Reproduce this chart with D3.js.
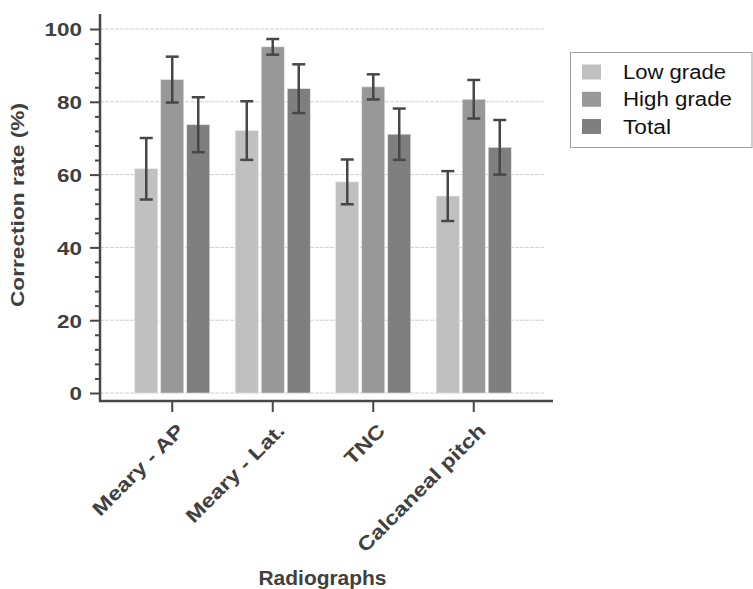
<!DOCTYPE html>
<html>
<head>
<meta charset="utf-8">
<script src="https://cdn.jsdelivr.net/npm/d3@7"></script>
<style>
  html, body { margin: 0; padding: 0; background: #fff; }
  svg { display: block; }
  text { font-family: "Liberation Sans", Arial, Helvetica, sans-serif; }
</style>
</head>
<body>
<svg id="chart" width="753" height="589"></svg>
<script>
// ---- data ----
const categories = ["Meary - AP", "Meary - Lat.", "TNC", "Calcaneal pitch"];
const series = ["Low grade", "High grade", "Total"];
const lowGrade = [61.6, 72.1, 58.0, 54.1];
const lowGradeErr = [8.45, 8.05, 6.15, 6.85];
const highGrade = [86.1, 95.1, 84.1, 80.7];
const highGradeErr = [6.3, 2.15, 3.45, 5.3];
const total = [73.7, 83.6, 71.1, 67.5];
const totalErr = [7.55, 6.7, 7.05, 7.5];
const yTicks = [0, 20, 40, 60, 80, 100];
const yLabel = "Correction rate (%)";
const xLabel = "Radiographs";

const values = [lowGrade, highGrade, total];
const errors = [lowGradeErr, highGradeErr, totalErr];
const colors = ["#c0c0c0", "#989898", "#7f7f7f"];

const rows = [];
categories.forEach((c, i) => {
  series.forEach((s, j) => {
    rows.push({ cat: c, series: s, value: values[j][i], err: errors[j][i] });
  });
});

// ---- layout ----
const svg = d3.select("#chart");
const axisColor = "#474747";
const plotLeft = 100, plotRight = 545, axisRight = 553;
const yBottomPx = 393, yTopPx = 29, xAxisY = 401, yAxisTop = 14;

const y = d3.scaleLinear().domain([0, 100]).range([yBottomPx, yTopPx]);
const x0 = d3.scaleBand().domain(categories).range([122, 524]).padding(0);
const x1 = d3.scaleBand().domain(series).range([-39, 39]).paddingInner(0.115).paddingOuter(0.0575);
const color = d3.scaleOrdinal().domain(series).range(colors);

function stretch(sel, factor) {
  sel.each(function () {
    const w = this.getComputedTextLength();
    d3.select(this).attr("textLength", w * factor).attr("lengthAdjust", "spacingAndGlyphs");
  });
}

// gridlines
svg.append("g").selectAll("line").data(yTicks).join("line")
  .attr("x1", plotLeft).attr("x2", plotRight)
  .attr("y1", d => y(d)).attr("y2", d => y(d))
  .attr("stroke", "#d0d0d0").attr("stroke-width", 1)
  .attr("stroke-dasharray", "4,1");

// bars
const gBars = svg.append("g");
gBars.selectAll("rect").data(rows).join("rect")
  .attr("x", d => x0(d.cat) + x0.bandwidth() / 2 + x1(d.series))
  .attr("width", x1.bandwidth())
  .attr("y", d => y(d.value))
  .attr("height", d => y(0) - y(d.value))
  .attr("fill", d => color(d.series))
  .attr("stroke", "#e4e4e4").attr("stroke-width", 0.6);

// error bars
const capHalf = 6.5;
const gErr = svg.append("g").attr("stroke", "#474747").attr("stroke-width", 2.5);
rows.forEach(d => {
  const cx = x0(d.cat) + x0.bandwidth() / 2 + x1(d.series) + x1.bandwidth() / 2;
  const yHi = y(d.value + d.err), yLo = y(d.value - d.err);
  gErr.append("line").attr("x1", cx).attr("x2", cx).attr("y1", yHi).attr("y2", yLo);
  gErr.append("line").attr("x1", cx - capHalf).attr("x2", cx + capHalf).attr("y1", yHi).attr("y2", yHi);
  gErr.append("line").attr("x1", cx - capHalf).attr("x2", cx + capHalf).attr("y1", yLo).attr("y2", yLo);
});

// y axis: minor ticks
const minorTicks = d3.range(0, 101, 4).filter(v => yTicks.indexOf(v) < 0);
const yMinor = svg.append("g").attr("transform", `translate(${plotLeft},0)`)
  .call(d3.axisLeft(y).tickValues(minorTicks).tickSize(5).tickFormat(""));
yMinor.select(".domain").remove();
yMinor.selectAll("line").attr("stroke", axisColor).attr("stroke-width", 2);

// y axis: major ticks
const yAxis = svg.append("g").attr("transform", `translate(${plotLeft},0)`)
  .call(d3.axisLeft(y).tickValues(yTicks).tickSize(10).tickPadding(8));
yAxis.select(".domain").remove();
yAxis.selectAll("line").attr("stroke", axisColor).attr("stroke-width", 2);
yAxis.selectAll("text")
  .attr("fill", "#404040").attr("font-size", 19).attr("font-weight", "bold")
  .attr("font-family", "Liberation Sans, Arial, sans-serif")
  .attr("dy", "0.36em");
stretch(yAxis.selectAll("text"), 1.18);

// axis lines
svg.append("line").attr("x1", plotLeft).attr("x2", plotLeft)
  .attr("y1", yAxisTop).attr("y2", xAxisY + 1)
  .attr("stroke", axisColor).attr("stroke-width", 2.5);
svg.append("line").attr("x1", plotLeft - 1).attr("x2", axisRight)
  .attr("y1", xAxisY).attr("y2", xAxisY)
  .attr("stroke", axisColor).attr("stroke-width", 2.5);

// x axis ticks + labels
const xAxis = svg.append("g").attr("transform", `translate(0,${xAxisY})`)
  .call(d3.axisBottom(x0).tickSize(11).tickFormat(""));
xAxis.select(".domain").remove();
xAxis.selectAll("line").attr("stroke", axisColor).attr("stroke-width", 2);

const xl = svg.append("g").selectAll("text").data(categories).join("text")
  .attr("transform", d => `translate(${x0(d) + x0.bandwidth() / 2 + 13},${432}) rotate(-45)`)
  .attr("text-anchor", "end")
  .attr("font-size", 19.5).attr("font-weight", "bold").attr("fill", "#404040")
  .text(d => d);
stretch(xl, 1.2);

// axis titles
const yt = svg.append("text")
  .attr("transform", `translate(24,205) rotate(-90)`)
  .attr("text-anchor", "middle")
  .attr("font-size", 19).attr("font-weight", "bold").attr("fill", "#404040")
  .text(yLabel);
yt.attr("textLength", 204).attr("lengthAdjust", "spacingAndGlyphs");

const xt = svg.append("text")
  .attr("x", 322.5).attr("y", 585)
  .attr("text-anchor", "middle")
  .attr("font-size", 20).attr("font-weight", "bold").attr("fill", "#404040")
  .text(xLabel);
xt.attr("textLength", 128).attr("lengthAdjust", "spacingAndGlyphs");

// legend
const lg = svg.append("g");
lg.append("rect").attr("x", 570.5).attr("y", 52.5).attr("width", 181.5).attr("height", 95)
  .attr("fill", "#fff").attr("stroke", "#a0a0a0").attr("stroke-width", 1);
const legendRowY = d3.scalePoint().domain(series).range([72, 126.5]);
const legendWidths = [103, 109, 48];
series.forEach((s, i) => {
  lg.append("rect").attr("x", 582).attr("y", legendRowY(s) - 7.5)
    .attr("width", 19).attr("height", 15).attr("fill", color(s));
  lg.append("text").attr("x", 623).attr("y", legendRowY(s)).attr("dy", "0.36em")
    .attr("font-size", 20).attr("fill", "#111")
    .attr("textLength", legendWidths[i]).attr("lengthAdjust", "spacingAndGlyphs")
    .text(s);
});
</script>
</body>
</html>
